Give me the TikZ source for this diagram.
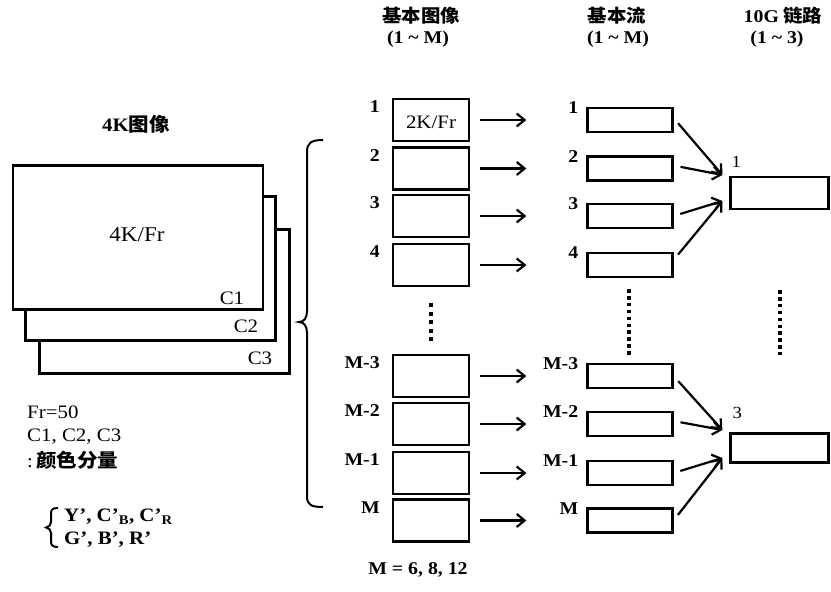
\documentclass[tikz,border=0pt]{standalone}
\usepackage{fontspec}
\setmainfont{Liberation Serif}[FakeStretch=1.1]
\newfontfamily\cjk{Noto Sans CJK SC}[FakeStretch=1.08]
\usetikzlibrary{arrows.meta,calc}
\begin{document}
\begin{tikzpicture}[x=1pt,y=-1pt,
  every node/.style={inner sep=0pt, font=\fontsize{19}{22}\selectfont},
  imgbox/.style={draw, line width=2.2pt, minimum width=76pt, minimum height=42pt},
  strbox/.style={draw, line width=2.2pt, minimum width=85pt, minimum height=24pt},
  lnkbox/.style={draw, line width=2.2pt, minimum width=98pt, minimum height=32pt},
  layer/.style={draw, line width=2.4pt, fill=white, minimum width=250pt, minimum height=144pt},
  lab/.style={font=\fontsize{18}{20}\selectfont\bfseries},
  rlab/.style={font=\fontsize{17}{20}\selectfont},
  ttl/.style={font=\fontsize{18}{20}\selectfont\cjk\bfseries},
  arr/.style={line width=2.2pt, -{Straight Barb[length=8pt,width=13pt,line width=2.2pt]}},
  dotcol/.style={line width=4pt, dash pattern=on 4pt off 4.5pt}]
\useasboundingbox (0,0) rectangle (831,592);

% titles
\node[ttl] (t1) at (421,16) {基本图像};
\node[lab] (t1b) at (418,39) {(1 \textasciitilde{} M)};
\node[ttl] (t2) at (617,16) {基本流};
\node[lab] (t2b) at (618,39) {(1 \textasciitilde{} M)};
\node[ttl] (t3) at (783,16) {{\fontspec{Liberation Serif}[FakeStretch=1.1]\bfseries 10G} 链路};
\node[lab] (t3b) at (777,39) {(1 \textasciitilde{} 3)};

% 4K image stack
\node (kt) at (136,124) {\bfseries 4K{\cjk\bfseries 图像}};
\node[layer] (k3) at (164.5,301.5) {};
\node[layer] (k2) at (150.5,268.5) {};
\node[layer] (k1) at (138,237.5) {};
\node[font=\fontsize{21}{24}\selectfont] (k1t) at (137,235) {4K/Fr};
\node (c1) at (232,298) {C1};
\node (c2) at (246,326) {C2};
\node (c3) at (260,358) {C3};

% notes
\node[anchor=west] (fr) at (27,412) {Fr=50};
\node[anchor=west] (cc) at (27,437) {C1, C2, C3};
\node[anchor=west] (col) at (27,460) {:\,{\cjk\bfseries 颜色分量}};
\draw[line width=2pt] (58,508) .. controls (52,508) and (51,510) .. (51,514) -- (51,522)
  .. controls (51,525) and (49,527) .. (46,527.5) .. controls (49,528) and (51,530) .. (51,533)
  -- (51,541) .. controls (51,545) and (52,547) .. (58,547);
\node[anchor=west, font=\fontsize{19}{22}\selectfont\bfseries] (ycc) at (64,517) {Y', C'\textsubscript{B}, C'\textsubscript{R}};
\node[anchor=west, font=\fontsize{19}{22}\selectfont\bfseries] (gbr) at (64,540) {G', B', R'};

% big brace
\draw[line width=2pt] (323,140) .. controls (311,140) and (307,143) .. (307,152) -- (307,311)
  .. controls (307,318) and (304,322) .. (299,322) .. controls (304,322) and (307,326) .. (307,333)
  -- (307,496) .. controls (307,505) and (311,507) .. (323,507);

% columns
\foreach \i/\y/\t in {1/120/1, 2/168.5/2, 3/216/3, 4/265/4, 5/376/M-3, 6/424/M-2, 7/473/M-1, 8/520.5/M}{
  \node[imgbox] (b\i) at (431,\y) {};
  \node[lab, anchor=base east] (bl\i) at ([xshift=-12pt,yshift=-15pt]b\i.north west) {\t};
  \node[strbox] (s\i) at (630,\y) {};
  \node[lab, anchor=base east] (sl\i) at ([xshift=-8pt,yshift=-7pt]s\i.north west) {\t};
  \draw[arr, shorten <=10pt, shorten >=60pt] (b\i) -- (s\i);
}
\node (b1t) at (431,122) {2K/Fr};

% dots
\draw[dotcol] (431,303) -- (431,345);
\draw[dotcol, line width=3.6pt, dash pattern=on 3.6pt off 3.3pt] (629,289) -- (629,357);
\draw[dotcol, line width=3.6pt, dash pattern=on 3.6pt off 3.3pt] (780,290) -- (780,355);

% links
\node[lnkbox] (r1) at (779.5,193) {};
\node[lnkbox, minimum height=29pt] (r3) at (779.5,448) {};
\node[rlab, anchor=base west] (rl1) at ([xshift=2pt,yshift=8pt]r1.north west) {1};
\node[rlab, anchor=base west] (rl3) at ([xshift=3pt,yshift=14pt]r3.north west) {3};
\coordinate (u1) at ([xshift=-7pt,yshift=18pt]r1.west);
\coordinate (d1) at ([xshift=-7pt,yshift=-8pt]r1.west);
\coordinate (u3) at ([xshift=-7pt,yshift=18pt]r3.west);
\coordinate (d3) at ([xshift=-7pt,yshift=-10pt]r3.west);
\draw[arr, shorten <=7pt] ([yshift=2pt]s1.east) -- (u1);
\draw[arr, shorten <=7pt] ([yshift=3pt]s2.east) -- (u1);
\draw[arr, shorten <=7pt] (s3.east) -- (d1);
\draw[arr, shorten <=7pt] ([yshift=5pt]s4.east) -- (d1);
\draw[arr, shorten <=7pt] (s5.east) -- (u3);
\draw[arr, shorten <=7pt] ([yshift=3pt]s6.east) -- (u3);
\draw[arr, shorten <=7pt] (s7.east) -- (d3);
\draw[arr, shorten <=7pt] (s8.east) -- (d3);

\node[lab] (mval) at (418,570) {M = 6, 8, 12};
\end{tikzpicture}
\end{document}
